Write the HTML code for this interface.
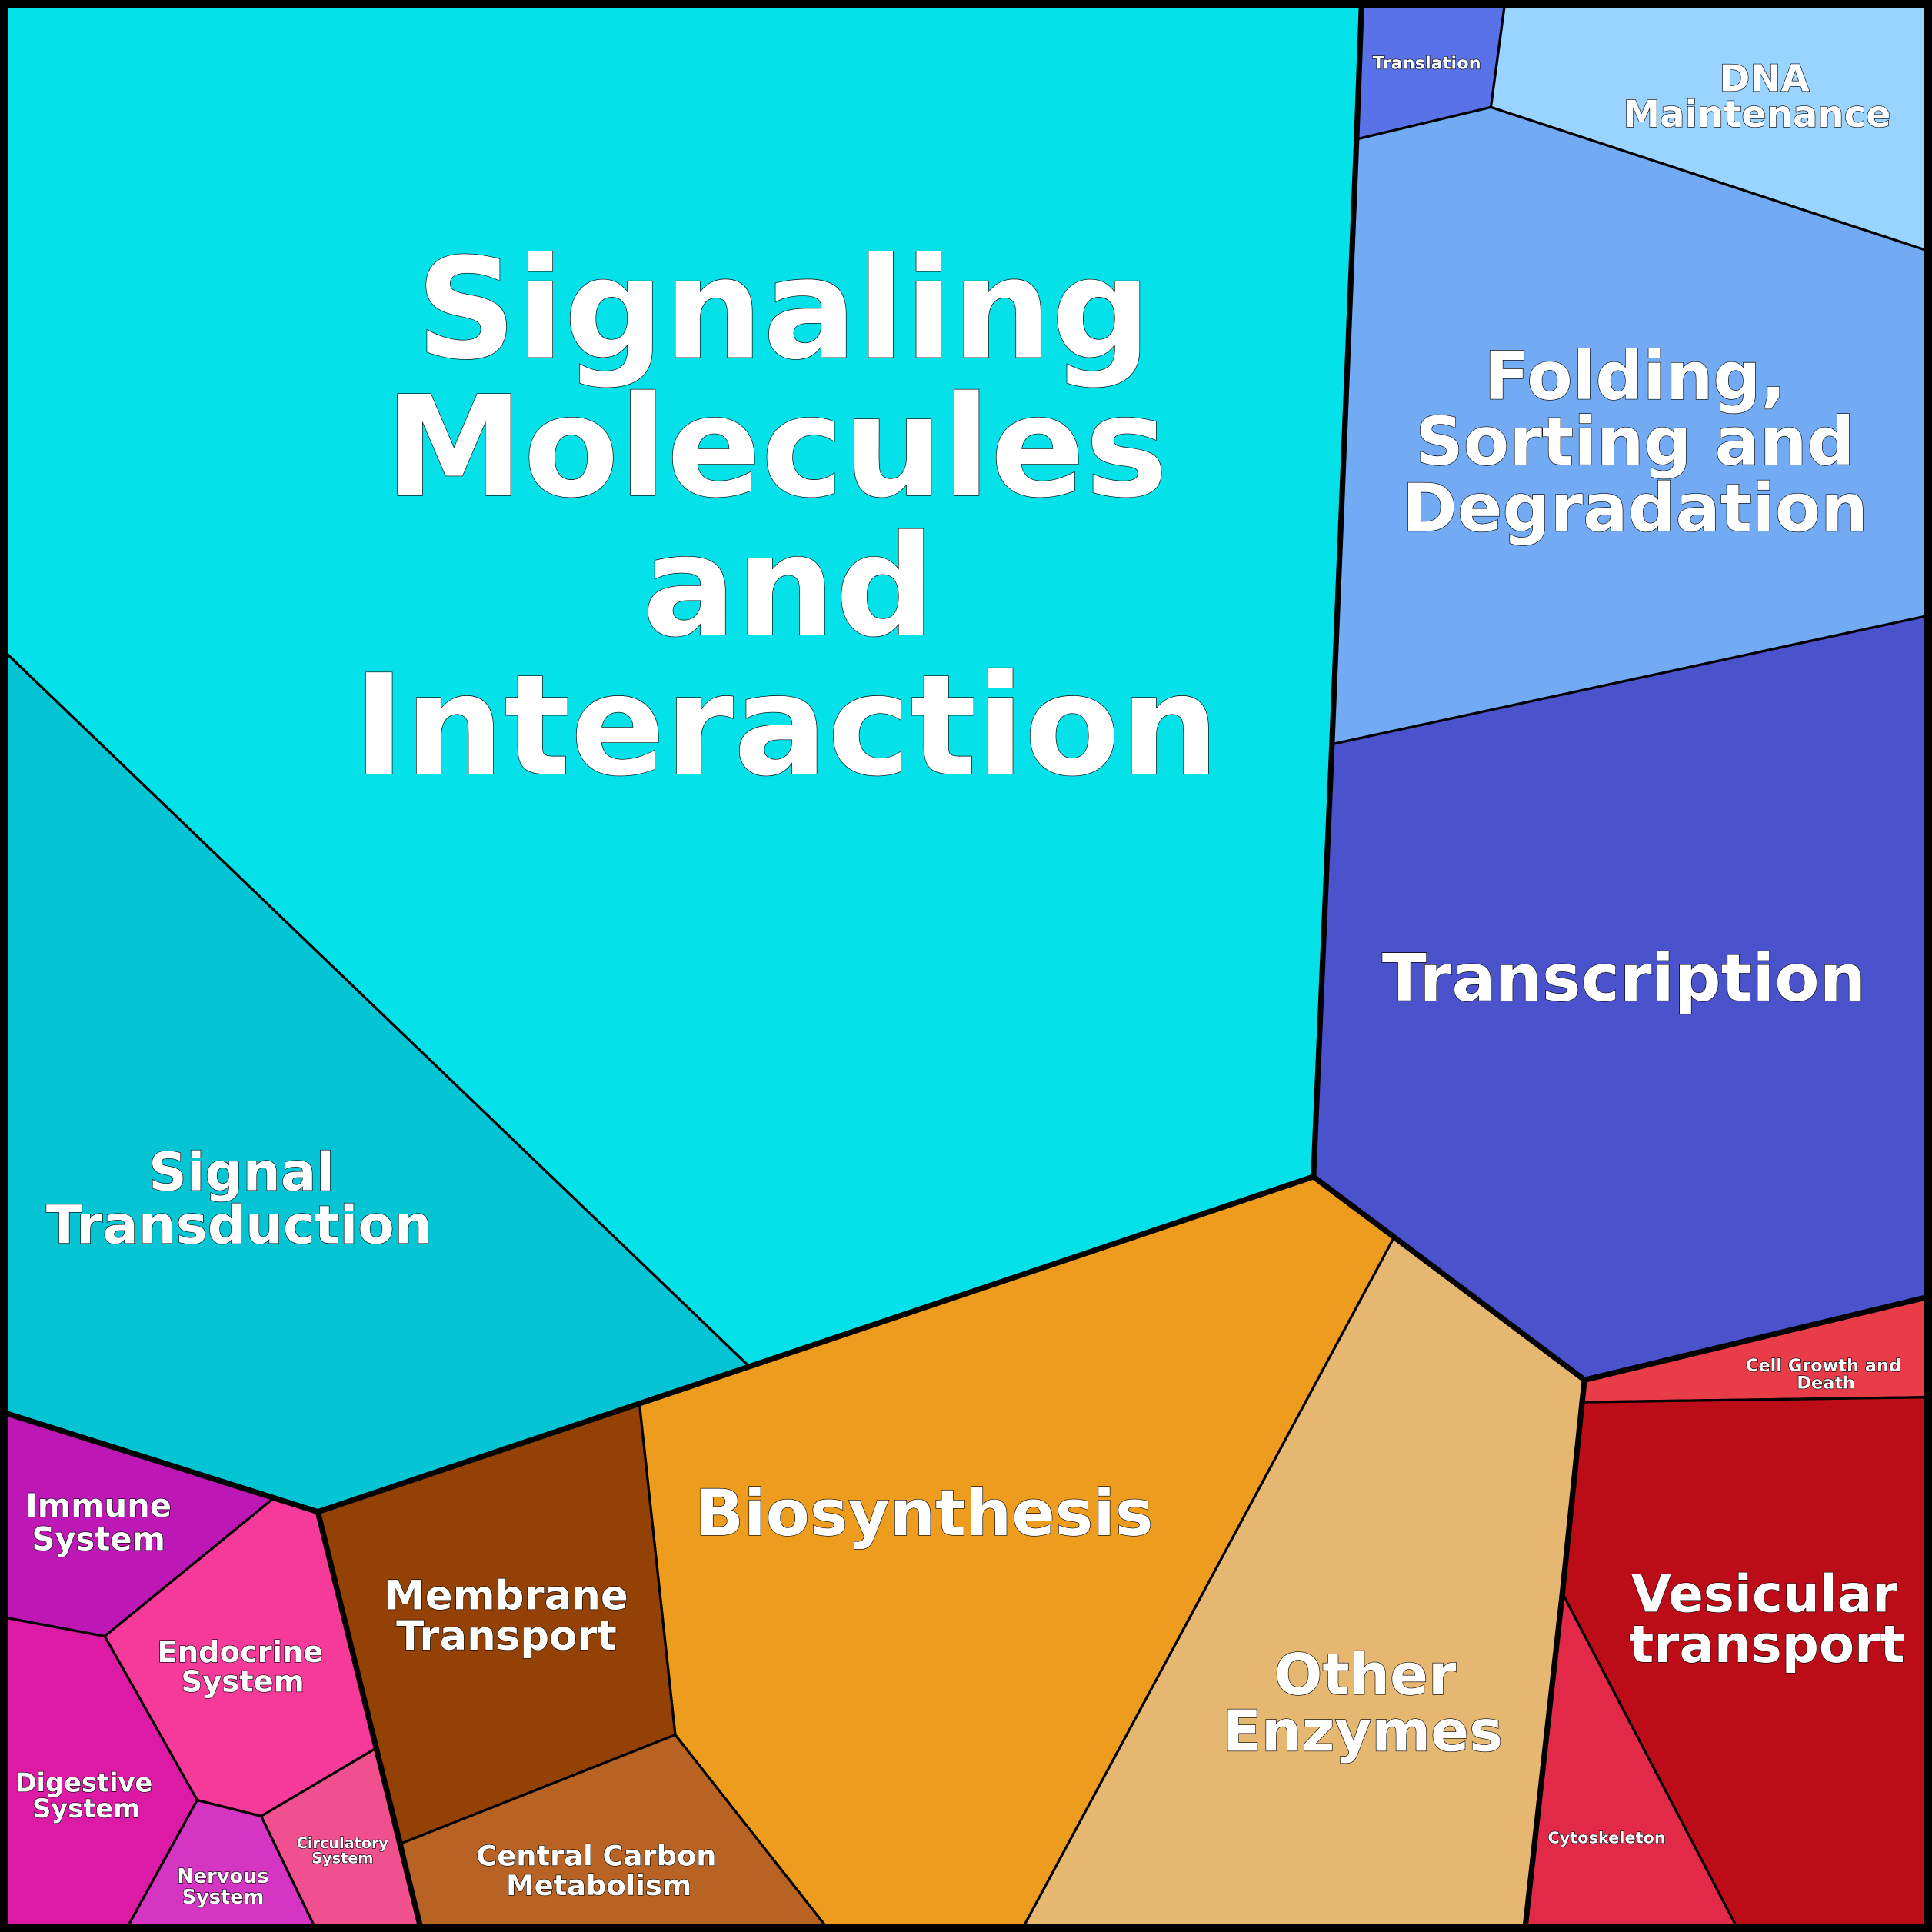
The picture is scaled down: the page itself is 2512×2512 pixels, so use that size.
<!DOCTYPE html>
<html><head><meta charset="utf-8"><style>
html,body{margin:0;padding:0;background:#000;}
svg{display:block;}
text{font-family:"DejaVu Sans","Liberation Sans",sans-serif;font-weight:bold;fill:#fff;stroke:#000;stroke-width:0.8;paint-order:stroke;text-anchor:middle;}
</style></head><body>
<svg width="2512" height="2512" viewBox="0 0 1568 1568" xmlns="http://www.w3.org/2000/svg">
<rect x="0" y="0" width="1568" height="1568" fill="#000"/>
<g stroke="#000" stroke-width="2" stroke-linejoin="round">
<polygon fill="#05e1e8" points="5,5 1105,5 1101,113 1081,604 1066,955 608,1109 5,530"/>
<polygon fill="#05c4d4" points="5,530 608,1109 258,1227 5,1147"/>
<polygon fill="#5a72e8" points="1105,5 1221,5 1210,87 1101,113"/>
<polygon fill="#99d3ff" points="1221,5 1563,5 1563,203 1210,87"/>
<polygon fill="#72aaf3" points="1101,113 1210,87 1563,203 1563,500 1081,604"/>
<polygon fill="#4a52cc" points="1081,604 1563,500 1563,1053 1286,1120 1066,955"/>
<polygon fill="#e83c48" points="1286,1120 1563,1053 1563,1134 1284,1138"/>
<polygon fill="#bb0c18" points="1284,1138 1563,1134 1563,1563 1409,1563 1268,1293"/>
<polygon fill="#e22a48" points="1268,1293 1409,1563 1238,1563"/>
<polygon fill="#e6b770" points="1131,1005 1286,1120 1284,1138 1268,1293 1238,1563 831,1563"/>
<polygon fill="#ed9c1e" points="608,1109 1066,955 1131,1005 831,1563 670,1563 548,1408 519,1140"/>
<polygon fill="#934104" points="258,1227 519,1140 548,1408 326,1496"/>
<polygon fill="#b86323" points="326,1496 548,1408 670,1563 341,1563"/>
<polygon fill="#bd17b6" points="5,1147 222,1216 85,1328 5,1313"/>
<polygon fill="#f53a9a" points="222,1216 258,1227 305,1419 212,1474 160,1461 85,1328"/>
<polygon fill="#dd1aa6" points="5,1313 85,1328 160,1461 104,1563 5,1563"/>
<polygon fill="#d535c3" points="160,1461 212,1474 255,1563 104,1563"/>
<polygon fill="#f0508e" points="212,1474 305,1419 341,1563 255,1563"/>
</g>
<g fill="none" stroke="#000" stroke-width="4.5" stroke-linejoin="round">
<polyline points="1105,5 1101,113 1081,604 1066,955 1286,1120 1284,1138 1268,1293 1238,1563"/>
<polyline points="1066,955 258,1227 341,1563"/>
<polyline points="5,1147 258,1227"/>
<polyline points="1286,1120 1563,1053"/>
</g>
<rect x="3" y="3" width="1562" height="1562" fill="none" stroke="#000" stroke-width="7"/>
<text font-size="113" x="636" y="290">Signaling</text>
<text font-size="113" x="630" y="402">Molecules</text>
<text font-size="113" x="640" y="515">and</text>
<text font-size="113" x="638" y="628">Interaction</text>
<text font-size="54" x="1327" y="324">Folding,</text>
<text font-size="54" x="1327" y="377">Sorting and</text>
<text font-size="54" x="1327" y="431">Degradation</text>
<text font-size="53" x="1318" y="812">Transcription</text>
<text font-size="30" x="1432" y="74">DNA</text>
<text font-size="30" x="1426" y="103">Maintenance</text>
<text font-size="14" x="1158" y="56">Translation</text>
<text font-size="43" x="196" y="966">Signal</text>
<text font-size="43" x="194" y="1009">Transduction</text>
<text font-size="52" x="750" y="1246">Biosynthesis</text>
<text font-size="46" x="1108" y="1375">Other</text>
<text font-size="46" x="1106" y="1421">Enzymes</text>
<text font-size="42" x="1432" y="1308">Vesicular</text>
<text font-size="42" x="1434" y="1349">transport</text>
<text font-size="33" x="411" y="1306">Membrane</text>
<text font-size="33" x="411" y="1339">Transport</text>
<text font-size="23" x="484" y="1514">Central Carbon</text>
<text font-size="23" x="486" y="1538">Metabolism</text>
<text font-size="26" x="80" y="1231">Immune</text>
<text font-size="26" x="80" y="1258">System</text>
<text font-size="24" x="195" y="1349">Endocrine</text>
<text font-size="24" x="197" y="1373">System</text>
<text font-size="21" x="68" y="1454">Digestive</text>
<text font-size="21" x="70" y="1475">System</text>
<text font-size="16" x="181" y="1528">Nervous</text>
<text font-size="16" x="181" y="1545">System</text>
<text font-size="12" x="278" y="1500" stroke-width="0.5">Circulatory</text>
<text font-size="12" x="278" y="1512" stroke-width="0.5">System</text>
<text font-size="14" x="1480" y="1113" stroke-width="0.5">Cell Growth and</text>
<text font-size="14" x="1482" y="1127" stroke-width="0.5">Death</text>
<text font-size="13" x="1304" y="1496" stroke-width="0.5">Cytoskeleton</text>
</svg>
</body></html>
